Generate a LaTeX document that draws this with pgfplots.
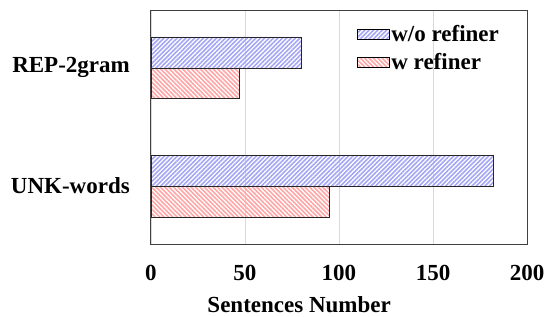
\documentclass[border=0pt]{standalone}
\usepackage{pgfplots}
\pgfplotsset{compat=1.18}
\usepackage{fontspec}
\setmainfont{Liberation Serif}
\usetikzlibrary{patterns.meta}
\definecolor{bluestripe}{RGB}{165,165,245}
\definecolor{redstripe}{RGB}{255,165,165}
\definecolor{axgray}{RGB}{64,64,64}
\newcommand{\bigbf}{\fontsize{23}{27}\selectfont\bfseries}
\begin{document}
\begin{tikzpicture}
\begin{axis}[
  at={(0pt,0pt)}, anchor=south west,
  scale only axis,
  width=376pt, height=234pt,
  xbar, bar width=0.262,
  xmin=0, xmax=200,
  ymin=-0.49, ymax=1.49,
  ytick={0,1}, yticklabels={UNK-words,REP-2gram},
  xtick={0,50,100,150,200},
  major tick length=0pt,
  xmajorgrids, grid style={draw=gray!30, line width=0.8pt},
  axis line style={draw=axgray, line width=1pt},
  /pgf/number format/assume math mode=true,
  tick label style={font=\bigbf},
  yticklabel style={inner sep=0pt, xshift=-21pt},
  xticklabel style={inner sep=0pt, yshift=-21pt},
  xlabel={Sentences Number},
  xlabel style={font=\bigbf, at={(axis description cs:0.394,0)}, anchor=north, inner sep=0pt, yshift=-52pt},
  legend cell align=left,
  legend style={draw=none, fill=none, font=\bigbf, at={(axis description cs:0.548,0.94)}, anchor=north west, row sep=7pt, inner sep=0pt,
    nodes={inner sep=1.5pt}},
  legend image code/.code={\draw[#1, draw=black, line width=0.6pt] (0pt,-5pt) rectangle (32pt,5pt);},
]
\addplot[draw=black!85, line width=0.8pt, bar shift=0.131,
  pattern={Lines[angle=45,distance=3.1pt,line width=1.6pt]}, pattern color=bluestripe]
  coordinates {(182,0) (80,1)};
\addlegendentry{w/o refiner}
\addplot[draw=black!85, line width=0.8pt, bar shift=-0.131,
  pattern={Lines[angle=-45,distance=3.1pt,line width=1.6pt]}, pattern color=redstripe]
  coordinates {(95,0) (47,1)};
\addlegendentry{w refiner}
\end{axis}
\pgfresetboundingbox
\path (-151pt,-72pt) rectangle (395pt,244pt);
\end{tikzpicture}
\end{document}
